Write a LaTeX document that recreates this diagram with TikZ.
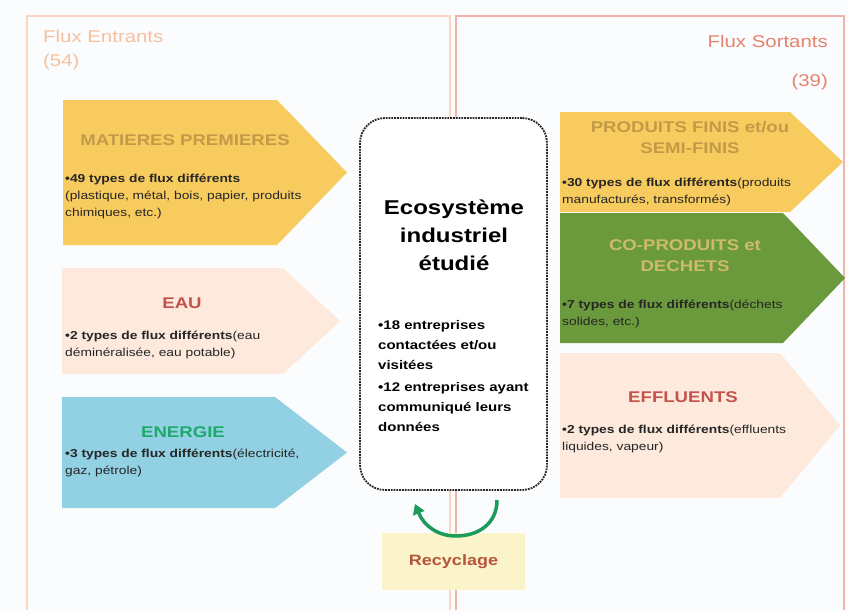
\documentclass[tikz,border=0pt]{standalone}
\usepackage{fontspec}
\setmainfont{Liberation Sans}[FakeStretch=1.2]
\usepackage{xcolor}
\usetikzlibrary{positioning,arrows.meta}

\definecolor{gold}{HTML}{F8CB5E}
\definecolor{goldtext}{HTML}{C39A48}
\definecolor{peach}{HTML}{FDEADD}
\definecolor{redtext}{HTML}{C4524C}
\definecolor{skyblue}{HTML}{92D0E3}
\definecolor{greentext}{HTML}{1DAA6A}
\definecolor{olive}{HTML}{6B9A3C}
\definecolor{khaki}{HTML}{CDBB6A}
\definecolor{frameL}{HTML}{FAD6C0}
\definecolor{frameR}{HTML}{F2B4A8}
\definecolor{headL}{HTML}{F6C09C}
\definecolor{headR}{HTML}{E4836F}
\definecolor{recfill}{HTML}{FBF4CB}
\definecolor{rectext}{HTML}{B5533C}
\definecolor{recgreen}{HTML}{1C9C5C}
\definecolor{bg}{HTML}{FBFCFD}

% fill, left, body right, tip, top, bottom
\newcommand{\flowshape}[6]{%
  \fill[#1] (#2,#5) -- (#3,#5) -- (#4,{(#5+#6)/2}) -- (#3,#6) -- (#2,#6) -- cycle;}

\begin{document}
\begin{tikzpicture}[x=1pt, y=-1pt,
    flowtitle/.style={font=\fontsize{15.5}{21}\selectfont\bfseries, align=center, inner sep=0pt},
    flowtext/.style={font=\fontsize{11.5}{17}\selectfont, text=black!85, align=left, anchor=west, inner sep=0pt},
    header/.style={font=\fontsize{17}{20}\selectfont, inner sep=0pt},
    ecobox/.style={draw=black!85, densely dotted, line width=1.8pt, fill=white,
      rounded corners=25pt, minimum width=187pt, minimum height=372pt},
    ecotext/.style={font=\fontsize{12.5}{20}\selectfont\bfseries, align=left, anchor=west, inner sep=0pt},
    recbox/.style={fill=recfill, text=rectext, font=\fontsize{15}{18}\selectfont\bfseries,
      minimum width=143pt, minimum height=57pt},
    recarrow/.style={draw=recgreen, line width=3.5pt, -{Triangle[length=10pt,width=12pt]}}]
  \useasboundingbox (0,0) rectangle (848,610);
  \fill[bg] (0,0) rectangle (848,610);

  % frames
  \draw[frameL, line width=2pt] (27,610) -- (27,16) -- (450,16) -- (450,610);
  \draw[frameR, line width=2pt] (456,610) -- (456,16) -- (844,16) -- (844,610);
  \node[header, text=headL, anchor=west] (inhead) at (43,36) {Flux Entrants};
  \node[header, text=headL, anchor=west] (innum) at (43,62) {(54)};
  \node[header, text=headR, anchor=east] (outhead) at (828,41) {Flux Sortants};
  \node[header, text=headR, anchor=east] (outnum) at (828,82) {(39)};

  % incoming flows
  \flowshape{gold}{63}{277}{347}{100}{245}
  \node[flowtitle, text=goldtext] (rawtitle) at (185,140) {MATIERES PREMIERES};
  \node[flowtext] (rawtext) at (65,196) {\textbf{•49 types de flux différents}\\(plastique, métal, bois, papier, produits\\chimiques, etc.)};

  \flowshape{peach}{62}{283}{340}{268}{374}
  \node[flowtitle, text=redtext] (watertitle) at (182,303) {EAU};
  \node[flowtext] (watertext) at (65,345) {\textbf{•2 types de flux différents}(eau\\déminéralisée, eau potable)};

  \flowshape{skyblue}{62}{275}{347}{397}{508}
  \node[flowtitle, text=greentext] (energytitle) at (183,432) {ENERGIE};
  \node[flowtext] (energytext) at (65,463) {\textbf{•3 types de flux différents}(électricité,\\gaz, pétrole)};

  % outgoing flows
  \flowshape{gold}{560}{790}{843}{112}{212}
  \node[flowtitle, text=goldtext] (producttitle) at (690,137) {PRODUITS FINIS et/ou\\SEMI-FINIS};
  \node[flowtext] (producttext) at (562,192) {\textbf{•30 types de flux différents}(produits\\manufacturés, transformés)};

  \flowshape{olive}{560}{783}{845}{213}{343}
  \node[flowtitle, text=khaki] (wastetitle) at (685,256) {CO-PRODUITS et\\DECHETS};
  \node[flowtext] (wastetext) at (562,314) {\textbf{•7 types de flux différents}(déchets\\solides, etc.)};

  \flowshape{peach}{560}{780}{840}{353}{498}
  \node[flowtitle, text=redtext] (effluenttitle) at (683,397) {EFFLUENTS};
  \node[flowtext] (effluenttext) at (562,439) {\textbf{•2 types de flux différents}(effluents\\liquides, vapeur)};

  % ecosystem
  \node[ecobox] (eco) at (453.5,304) {};
  \node[font=\fontsize{20}{28}\selectfont\bfseries, align=center] (ecotitle) at (454,235) {Ecosystème\\industriel\\étudié};
  \node[ecotext] (ecofacts1) at (378,345) {•18 entreprises\\contactées et/ou\\visitées};
  \node[ecotext] (ecofacts2) at (378,407) {•12 entreprises ayant\\communiqué leurs\\données};

  % recycling
  \node[recbox] (recy) at (453.5,561.5) {Recyclage};
  \coordinate (recstart) at (497,500);
  \coordinate (recend) at (415,504);
  \draw[recarrow] (recstart) .. controls (497,524) and (478,536) .. (456,536)
    .. controls (438,536) and (424,526) .. (recend);
\end{tikzpicture}
\end{document}
